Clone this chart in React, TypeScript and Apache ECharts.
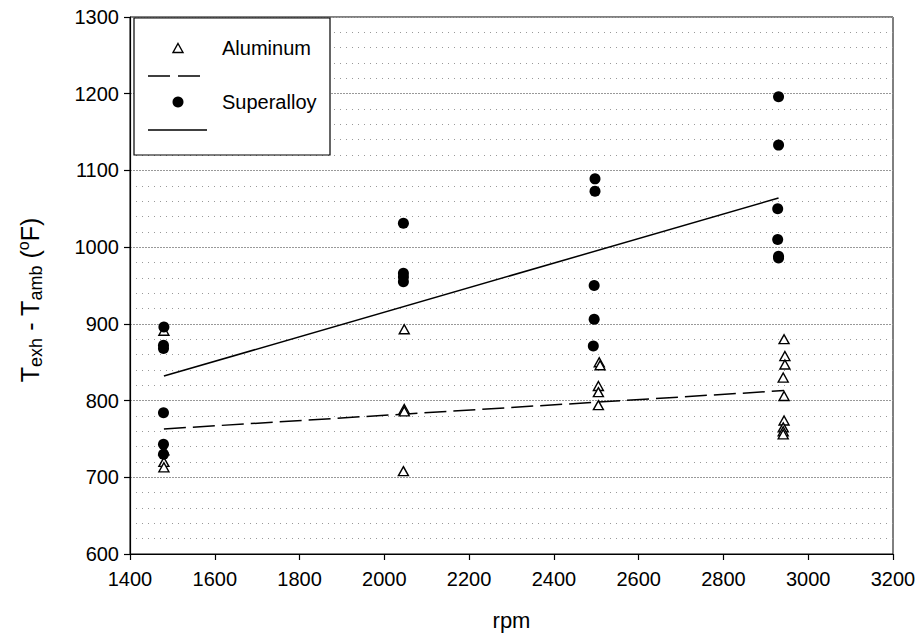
import React, { useEffect, useRef } from "react";
import * as echarts from "echarts";

// Measured exhaust-minus-ambient temperature rise vs engine speed
const aluminumPoints: [number, number][] = [
  [1480, 891], [1480, 735], [1480, 720], [1480, 713],
  [2047, 893], [2047, 789], [2047, 786], [2045, 708],
  [2507, 850], [2509, 846], [2505, 819], [2505, 811], [2505, 794],
  [2943, 880], [2945, 858], [2945, 847], [2941, 830], [2943, 806],
  [2943, 774], [2941, 765], [2941, 760], [2941, 756],
];

const superalloyPoints: [number, number][] = [
  [1480, 896], [1479, 872], [1479, 868], [1479, 784], [1479, 743], [1479, 730],
  [2045, 1031], [2045, 966], [2045, 961], [2045, 955],
  [2497, 1089], [2497, 1073], [2495, 950], [2495, 906], [2493, 871],
  [2930, 1196], [2930, 1133], [2928, 1050], [2928, 1010], [2930, 988], [2930, 986],
];

// Linear fits drawn over each data set
const aluminumFit: [number, number][] = [[1480, 763], [2943, 813]];
const superalloyFit: [number, number][] = [[1480, 832], [2930, 1064]];

const xTicks = { min: 1400, max: 3200, interval: 200 };
const yTicks = { min: 600, max: 1300, interval: 100 };

const FONT = "Liberation Sans, Arial, sans-serif";
const plain = (v: number) => String(v);

export default function App() {
  const ref = useRef<HTMLDivElement>(null);

  useEffect(() => {
    if (!ref.current) return;
    const chart = echarts.init(ref.current, null, { renderer: "svg" });

    chart.setOption({
      animation: false,
      backgroundColor: "#fff",
      textStyle: { fontFamily: FONT },
      grid: {
        left: 130,
        right: 30,
        top: 17,
        bottom: 84,
        show: true,
        borderColor: "#000",
        borderWidth: 1,
        backgroundColor: "transparent",
      },
      xAxis: {
        type: "value",
        min: xTicks.min,
        max: xTicks.max,
        interval: xTicks.interval,
        name: "rpm",
        nameLocation: "middle",
        nameGap: 55,
        nameTextStyle: { fontSize: 22, color: "#000", fontFamily: FONT },
        axisLine: { show: true, lineStyle: { color: "#000", width: 1.2 } },
        axisTick: { show: true, inside: false, length: 6, lineStyle: { color: "#000", width: 1.2 } },
        axisLabel: { fontSize: 20, color: "#000", margin: 15, fontFamily: FONT, formatter: plain },
        splitLine: { show: false },
      },
      yAxis: {
        type: "value",
        min: yTicks.min,
        max: yTicks.max,
        interval: yTicks.interval,
        axisLine: { show: true, lineStyle: { color: "#000", width: 1.2 } },
        axisTick: { show: true, inside: false, length: 6, lineStyle: { color: "#000", width: 1.2 } },
        axisLabel: { fontSize: 20, color: "#000", margin: 11, fontFamily: FONT, formatter: plain },
        splitLine: { show: true, lineStyle: { color: "#999", type: [2, 1], width: 1 } },
        minorTick: { show: false, splitNumber: 5 },
        minorSplitLine: { show: true, lineStyle: { color: "#999", type: [1, 5], width: 1 } },
      },
      series: [
        {
          name: "Aluminum fit",
          type: "line",
          data: aluminumFit,
          showSymbol: false,
          symbol: "none",
          lineStyle: { color: "#000", width: 1.5, type: [22, 7] },
          z: 2,
        },
        {
          name: "Superalloy fit",
          type: "line",
          data: superalloyFit,
          showSymbol: false,
          symbol: "none",
          lineStyle: { color: "#000", width: 1.5, type: "solid" },
          z: 2,
        },
        {
          name: "Aluminum",
          type: "scatter",
          data: aluminumPoints,
          symbol: "triangle",
          symbolSize: [10, 9],
          itemStyle: { color: "#fff", borderColor: "#000", borderWidth: 1.4, opacity: 1 },
          z: 3,
        },
        {
          name: "Superalloy",
          type: "scatter",
          data: superalloyPoints,
          symbol: "circle",
          symbolSize: 11,
          itemStyle: { color: "#000", opacity: 1 },
          z: 4,
        },
      ],
      graphic: [
        // y-axis title with subscripts and superscript
        {
          type: "text",
          x: 30,
          y: 300,
          rotation: Math.PI / 2,
          style: {
            text: "{t|T}{s|exh}{t| - T}{s|amb}{t| (}{p|o}{t|F)}",
            align: "center",
            verticalAlign: "middle",
            fill: "#000",
            rich: {
              t: { fontSize: 25, fontFamily: FONT, lineHeight: 30, fill: "#000" },
              s: { fontSize: 18, fontFamily: FONT, lineHeight: 14, verticalAlign: "bottom", fill: "#000" },
              p: { fontSize: 16, fontFamily: FONT, lineHeight: 14, verticalAlign: "top", fill: "#000" },
            },
          },
        },
        // legend box
        {
          type: "group",
          children: [
            {
              type: "rect",
              shape: { x: 134, y: 18, width: 196, height: 137 },
              style: { fill: "#fff", stroke: "#000", lineWidth: 1.2 },
              z: 10,
            },
            {
              type: "polygon",
              shape: { points: [[178, 43.5], [183, 52.5], [173, 52.5]] },
              style: { fill: "#fff", stroke: "#000", lineWidth: 1.4 },
              z: 11,
            },
            {
              type: "text",
              x: 222,
              y: 48,
              style: { text: "Aluminum", font: `20px ${FONT}`, fill: "#000", verticalAlign: "middle" },
              z: 11,
            },
            {
              type: "line",
              shape: { x1: 148, y1: 76, x2: 200, y2: 76 },
              style: { stroke: "#000", lineWidth: 1.5, lineDash: [22, 8] },
              z: 11,
            },
            {
              type: "circle",
              shape: { cx: 178, cy: 102, r: 5.5 },
              style: { fill: "#000" },
              z: 11,
            },
            {
              type: "text",
              x: 222,
              y: 102,
              style: { text: "Superalloy", font: `20px ${FONT}`, fill: "#000", verticalAlign: "middle" },
              z: 11,
            },
            {
              type: "line",
              shape: { x1: 148, y1: 130, x2: 207, y2: 130 },
              style: { stroke: "#000", lineWidth: 1.5 },
              z: 11,
            },
          ],
        },
      ],
    });

    return () => chart.dispose();
  }, []);

  return (
    <div
      ref={ref}
      style={{ position: "fixed", left: 0, top: 0, width: 923, height: 638, background: "#fff" }}
    />
  );
}
